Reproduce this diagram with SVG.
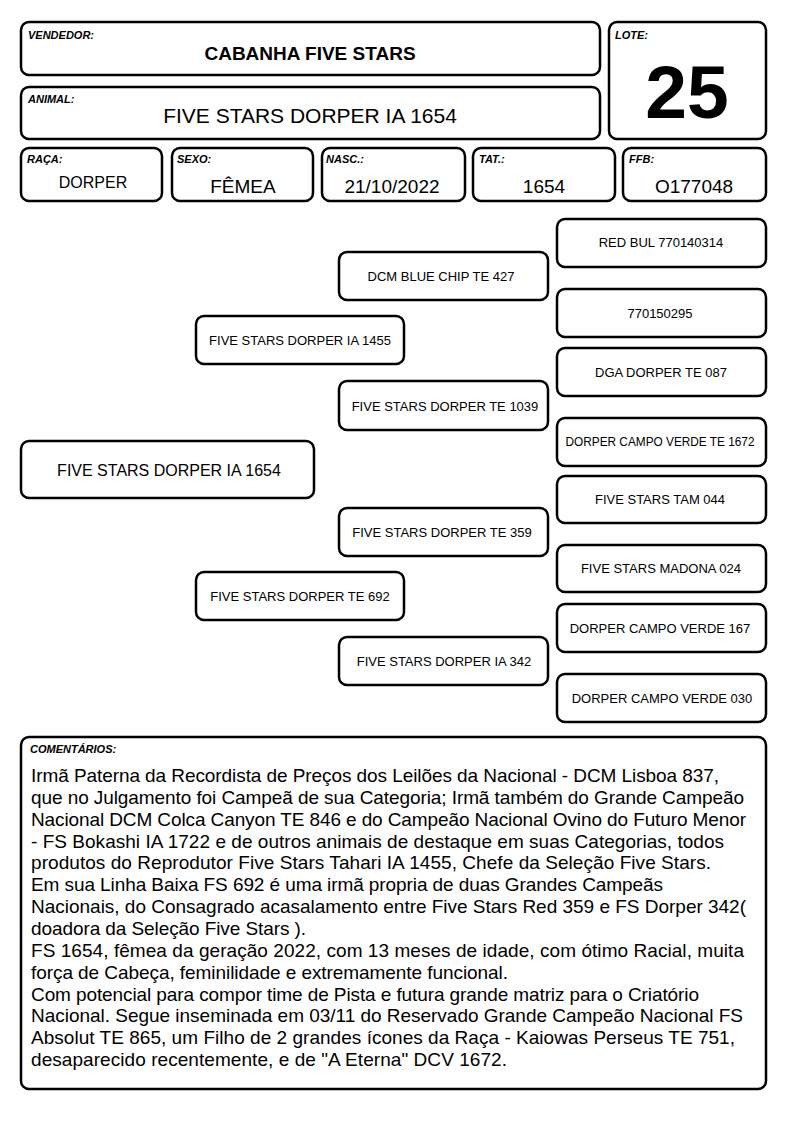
<svg xmlns="http://www.w3.org/2000/svg" width="794" height="1123" viewBox="0 0 794 1123">
<style>
.b{fill:#fff;stroke:#000;stroke-width:2.5}
.lbl{font-family:"Liberation Sans",Arial,sans-serif;font-size:11px;font-weight:bold;font-style:italic;fill:#000}
.val{font-family:"Liberation Sans",Arial,sans-serif;font-size:19px;fill:#000;text-anchor:middle}
.n{font-family:"Liberation Sans",Arial,sans-serif;font-size:13px;fill:#000;text-anchor:middle}
.c{font-family:"Liberation Sans",Arial,sans-serif;font-size:19px;fill:#000}
</style>
<rect width="794" height="1123" fill="#fff"/>
<g id="vendedor">
<rect class="b" x="21" y="22" width="579" height="53" rx="8"/>
<text class="lbl" x="28" y="39">VENDEDOR:</text>
<text class="val" x="310" y="60" style="font-weight:bold">CABANHA FIVE STARS</text>
</g>
<g id="animal">
<rect class="b" x="21" y="87" width="579" height="52" rx="8"/>
<text class="lbl" x="28" y="103">ANIMAL:</text>
<text class="val" x="310" y="123" style="font-size:21px">FIVE STARS DORPER IA 1654</text>
</g>
<g id="lote">
<rect class="b" x="609" y="22" width="157" height="117" rx="8"/>
<text class="lbl" x="615" y="39">LOTE:</text>
<text class="val" x="687" y="118" style="font-size:75px;font-weight:bold">25</text>
</g>
<g id="raca">
<rect class="b" x="21" y="148" width="141" height="53" rx="8"/>
<text class="lbl" x="27" y="163">RAÇA:</text>
<text class="val" x="93" y="188" style="font-size:16px">DORPER</text>
</g>
<g id="sexo">
<rect class="b" x="172" y="148" width="141" height="53" rx="8"/>
<text class="lbl" x="177" y="163">SEXO:</text>
<text class="val" x="243" y="193">FÊMEA</text>
</g>
<g id="nasc">
<rect class="b" x="322" y="148" width="143" height="53" rx="8"/>
<text class="lbl" x="326" y="163">NASC.:</text>
<text class="val" x="392" y="193">21/10/2022</text>
</g>
<g id="tat">
<rect class="b" x="473" y="148" width="142" height="53" rx="8"/>
<text class="lbl" x="479" y="163">TAT.:</text>
<text class="val" x="544" y="193">1654</text>
</g>
<g id="ffb">
<rect class="b" x="623" y="148" width="143" height="53" rx="8"/>
<text class="lbl" x="629" y="163">FFB:</text>
<text class="val" x="694" y="193">O177048</text>
</g>
<g id="connectors"></g>
<g id="p0">
<rect class="b" x="21" y="441" width="293" height="57" rx="8"/>
<text class="n" x="169" y="476" style="font-size:16px">FIVE STARS DORPER IA 1654</text>
</g>
<g id="p1">
<rect class="b" x="196" y="316" width="208" height="48" rx="8"/>
<text class="n" x="300" y="345">FIVE STARS DORPER IA 1455</text>
</g>
<g id="p2">
<rect class="b" x="196" y="572" width="208" height="48" rx="8"/>
<text class="n" x="300" y="601">FIVE STARS DORPER TE 692</text>
</g>
<g id="p3">
<rect class="b" x="339" y="252" width="209" height="48" rx="8"/>
<text class="n" x="441" y="281">DCM BLUE CHIP TE 427</text>
</g>
<g id="p4">
<rect class="b" x="339" y="381" width="209" height="49" rx="8"/>
<text class="n" x="445" y="411">FIVE STARS DORPER TE 1039</text>
</g>
<g id="p5">
<rect class="b" x="339" y="508" width="209" height="48" rx="8"/>
<text class="n" x="442" y="537">FIVE STARS DORPER TE 359</text>
</g>
<g id="p6">
<rect class="b" x="339" y="637" width="209" height="48" rx="8"/>
<text class="n" x="444" y="666">FIVE STARS DORPER IA 342</text>
</g>
<g id="p7">
<rect class="b" x="557" y="219" width="209" height="48" rx="8"/>
<text class="n" x="661" y="247">RED BUL 770140314</text>
</g>
<g id="p8">
<rect class="b" x="557" y="289" width="209" height="48" rx="8"/>
<text class="n" x="660" y="318">770150295</text>
</g>
<g id="p9">
<rect class="b" x="557" y="348" width="209" height="48" rx="8"/>
<text class="n" x="661" y="377">DGA DORPER TE 087</text>
</g>
<g id="p10">
<rect class="b" x="557" y="418" width="209" height="48" rx="8"/>
<text class="n" x="660" y="446" textLength="189" lengthAdjust="spacingAndGlyphs">DORPER CAMPO VERDE TE 1672</text>
</g>
<g id="p11">
<rect class="b" x="557" y="476" width="209" height="47" rx="8"/>
<text class="n" x="660" y="504">FIVE STARS TAM 044</text>
</g>
<g id="p12">
<rect class="b" x="557" y="545" width="209" height="47" rx="8"/>
<text class="n" x="661" y="573">FIVE STARS MADONA 024</text>
</g>
<g id="p13">
<rect class="b" x="557" y="604" width="209" height="48" rx="8"/>
<text class="n" x="660" y="633">DORPER CAMPO VERDE 167</text>
</g>
<g id="p14">
<rect class="b" x="557" y="674" width="209" height="48" rx="8"/>
<text class="n" x="662" y="703">DORPER CAMPO VERDE 030</text>
</g>
<g id="comentarios">
<rect class="b" x="21" y="737" width="745" height="352" rx="8"/>
<text class="lbl" x="30" y="753">COMENTÁRIOS:</text>
<text class="c" x="31" y="782" textLength="688" lengthAdjust="spacing">Irmã Paterna da Recordista de Preços dos Leilões da Nacional - DCM Lisboa 837,</text>
<text class="c" x="31" y="803.8" textLength="713" lengthAdjust="spacing">que no Julgamento foi Campeã de sua Categoria; Irmã também do Grande Campeão</text>
<text class="c" x="31" y="825.7" textLength="715" lengthAdjust="spacing">Nacional DCM Colca Canyon TE 846 e do Campeão Nacional Ovino do Futuro Menor</text>
<text class="c" x="31" y="847.5" textLength="693" lengthAdjust="spacing">- FS Bokashi IA 1722 e de outros animais de destaque em suas Categorias, todos</text>
<text class="c" x="31" y="869.4" textLength="680" lengthAdjust="spacing">produtos do Reprodutor Five Stars Tahari IA 1455, Chefe da Seleção Five Stars.</text>
<text class="c" x="31" y="891.2" textLength="632" lengthAdjust="spacing">Em sua Linha Baixa FS 692 é uma irmã propria de duas Grandes Campeãs</text>
<text class="c" x="31" y="913.1" textLength="715" lengthAdjust="spacing">Nacionais, do Consagrado acasalamento entre Five Stars Red 359 e FS Dorper 342(</text>
<text class="c" x="31" y="934.9" textLength="275" lengthAdjust="spacing">doadora da Seleção Five Stars ).</text>
<text class="c" x="31" y="956.8" textLength="713" lengthAdjust="spacing">FS 1654, fêmea da geração 2022, com 13 meses de idade, com ótimo Racial, muita</text>
<text class="c" x="31" y="978.6" textLength="477" lengthAdjust="spacing">força de Cabeça, feminilidade e extremamente funcional.</text>
<text class="c" x="31" y="1000.5" textLength="668" lengthAdjust="spacing">Com potencial para compor time de Pista e futura grande matriz para o Criatório</text>
<text class="c" x="31" y="1022.3" textLength="712" lengthAdjust="spacing">Nacional. Segue inseminada em 03/11 do Reservado Grande Campeão Nacional FS</text>
<text class="c" x="31" y="1044.2" textLength="704" lengthAdjust="spacing">Absolut TE 865, um Filho de 2 grandes ícones da Raça - Kaiowas Perseus TE 751,</text>
<text class="c" x="31" y="1066" textLength="476" lengthAdjust="spacing">desaparecido recentemente, e de "A Eterna" DCV 1672.</text>
</g>
</svg>
